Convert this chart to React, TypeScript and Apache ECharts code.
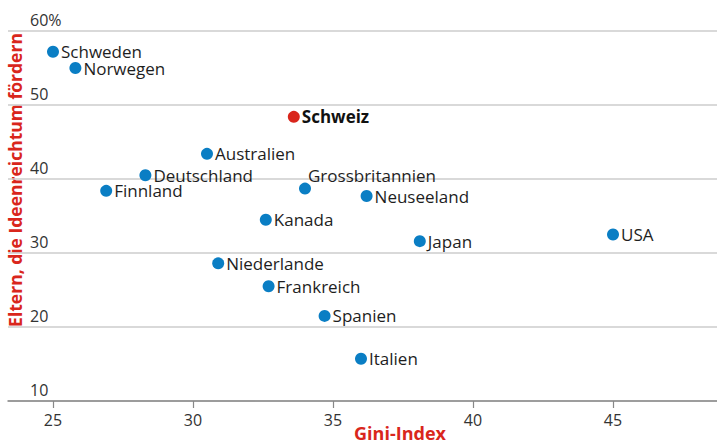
import React, { useEffect, useRef } from "react";
import * as echarts from "echarts";

const countries = ["Schweden", "Norwegen", "Schweiz", "Australien", "Deutschland", "Finnland", "Grossbritannien", "Neuseeland", "Kanada", "Japan", "USA", "Niederlande", "Frankreich", "Spanien", "Italien"];
const gini = [25.0, 25.8, 33.6, 30.5, 28.3, 26.9, 34.0, 36.2, 32.6, 38.1, 45.0, 30.9, 32.7, 34.7, 36.0];
const ideas = [57.2, 55.0, 48.4, 43.4, 40.5, 38.4, 38.7, 37.7, 34.5, 31.6, 32.5, 28.6, 25.5, 21.5, 15.7];
const xTicks = [25, 30, 35, 40, 45];
const highlight = "Schweiz";

const BLUE = "#0a7ec4";
const RED = "#d9261c";
const FONT = "'Open Sans'";

export default function App() {
  const ref = useRef<HTMLDivElement>(null);
  useEffect(() => {
    document.body.style.margin = "0";
    const chart = echarts.init(ref.current!, null, { renderer: "svg" });
    const data = countries.map((c, i) => {
      const isH = c === highlight;
      const isGB = c === "Grossbritannien";
      return {
        name: c,
        value: [gini[i], ideas[i]],
        itemStyle: { color: isH ? RED : BLUE, opacity: 1 },
        label: {
          show: true,
          position: "right",
          distance: 2,
          formatter: c,
          color: isH ? "#111" : "#1e1e1e",
          fontWeight: isH ? "bold" : "normal",
          fontFamily: FONT,
          fontSize: 17,
          offset: isGB ? [-5, -13] : [0, 0],
        },
      };
    });
    chart.setOption({
      animation: false,
      grid: { left: 8, right: 0, top: 31, bottom: 44 },
      xAxis: {
        type: "value",
        min: 23.393,
        max: 48.714,
        splitLine: { show: false },
        axisLine: { show: true, lineStyle: { color: "#888", width: 1.5 } },
        axisTick: { show: true, customValues: xTicks, length: 7, lineStyle: { color: "#888", width: 1.2 } },
        axisLabel: { customValues: xTicks, margin: 11, color: "#333", fontFamily: FONT, fontSize: 16 },
      },
      yAxis: {
        type: "value",
        min: 10,
        max: 60,
        interval: 10,
        axisLine: { show: false },
        axisTick: { show: false },
        splitLine: { show: true, lineStyle: { color: "#cccccc", width: 1.5 } },
        axisLabel: {
          inside: true,
          margin: 22,
          verticalAlign: "bottom",
          padding: [0, 0, 3, 0],
          color: "#333",
          fontFamily: FONT,
          fontSize: 16,
          formatter: (v: number) => (v === 60 ? "60%" : String(v)),
        },
      },
      graphic: [
        {
          type: "text",
          x: 15,
          y: 180,
          rotation: Math.PI / 2,
          style: {
            text: "Eltern, die Ideenreichtum fördern",
            fill: RED,
            font: `bold 17.5px ${FONT}`,
            align: "center",
            verticalAlign: "middle",
          },
        },
        {
          type: "text",
          x: 400,
          y: 433,
          style: {
            text: "Gini-Index",
            fill: RED,
            font: `bold 18px ${FONT}`,
            align: "center",
            verticalAlign: "middle",
          },
        },
      ],
      series: [
        {
          type: "scatter",
          symbolSize: 12,
          data,
          z: 3,
        },
      ],
    });
    return () => chart.dispose();
  }, []);
  return <div ref={ref} style={{ width: 717, height: 445 }} />;
}
